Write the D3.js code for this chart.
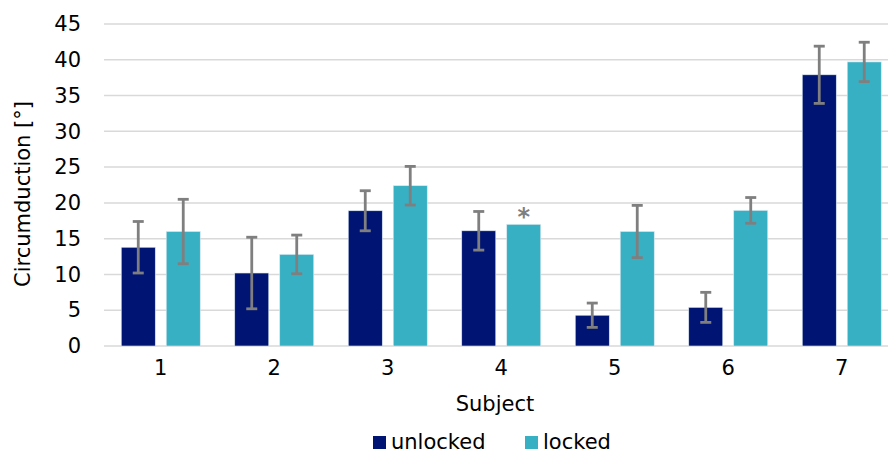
<!DOCTYPE html>
<html>
<head>
<meta charset="utf-8">
<script src="https://cdn.jsdelivr.net/npm/d3@7"></script>
<style>
  body { margin: 0; background: #fff; }
  svg { font-family: "DejaVu Sans", sans-serif; }
</style>
</head>
<body>
<svg id="chart" width="888" height="454"></svg>
<script>
const subjects = ["1", "2", "3", "4", "5", "6", "7"]
const seriesNames = ["unlocked", "locked"]
const unlocked = [13.8, 10.2, 18.9, 16.1, 4.3, 5.4, 37.9]
const unlockedErr = [3.6, 5.0, 2.8, 2.7, 1.7, 2.1, 4.0]
const locked = [16.0, 12.8, 22.4, 17.0, 16.0, 18.95, 39.7]
const lockedErr = [4.5, 2.7, 2.7, 0, 3.65, 1.8, 2.75]
const yTicks = [0, 5, 10, 15, 20, 25, 30, 35, 40, 45]
const colors = ["#001473", "#38b0c3"]

const svg = d3.select("#chart")
const width = 888, height = 454
const margin = {top: 24, bottom: 108, left: 104}
const fontSize = 21

// the last category runs a little past the right edge, as in the original
const x = d3.scaleBand()
    .domain(subjects)
    .range([margin.left, margin.left + 7 * 113.5])
    .paddingInner(0.304)
    .paddingOuter(0.152)
const x1 = d3.scaleBand()
    .domain(seriesNames)
    .range([0, x.bandwidth()])
    .paddingInner(0.244)
const y = d3.scaleLinear()
    .domain([0, 45])
    .range([height - margin.bottom, margin.top])

// gridlines
svg.append("g")
    .selectAll("line")
    .data(yTicks)
    .join("line")
    .attr("x1", margin.left)
    .attr("x2", width)
    .attr("y1", d => y(d))
    .attr("y2", d => y(d))
    .attr("stroke", "#d9d9d9")
    .attr("stroke-width", 1.5)

// y axis labels
let yAxis = g => g
    .attr("transform", `translate(${margin.left - 23},0)`)
    .call(d3.axisLeft(y).tickValues(yTicks).tickSize(0).tickPadding(0))
    .call(g => g.select(".domain").remove())
    .call(g => g.selectAll("text")
        .attr("font-size", fontSize)
        .attr("font-family", "DejaVu Sans, sans-serif")
        .attr("fill", "#000"))
svg.append("g").call(yAxis)

// x axis labels
let xAxis = g => g
    .attr("transform", `translate(0,${y(0) + 29})`)
    .call(d3.axisBottom(x).tickSize(0).tickPadding(0))
    .call(g => g.select(".domain").remove())
    .call(g => g.selectAll("text")
        .attr("dy", 0)
        .attr("font-size", fontSize)
        .attr("font-family", "DejaVu Sans, sans-serif")
        .attr("fill", "#000"))
svg.append("g").call(xAxis)

const series = [
    {name: "unlocked", values: unlocked, err: unlockedErr},
    {name: "locked", values: locked, err: lockedErr}
]

series.forEach((s, si) => {
    const data = subjects.map((d, i) => ({subject: d, value: s.values[i], err: s.err[i]}))
    const cx = d => x(d.subject) + x1(s.name) + x1.bandwidth() / 2
    const g = svg.append("g")
    g.selectAll("rect")
        .data(data)
        .join("rect")
        .attr("x", d => x(d.subject) + x1(s.name))
        .attr("width", x1.bandwidth())
        .attr("y", d => y(d.value))
        .attr("height", d => y(0) - y(d.value))
        .attr("fill", colors[si])
        .attr("stroke", "#dbe8f0")
        .attr("stroke-width", 0.6)

    const eb = g.selectAll("g.err")
        .data(data.filter(d => d.err > 0))
        .join("g")
        .attr("class", "err")
        .attr("stroke", "#7f7f7f")
        .attr("stroke-width", 2.8)
    eb.append("line")
        .attr("x1", cx)
        .attr("x2", cx)
        .attr("y1", d => y(d.value + d.err))
        .attr("y2", d => y(d.value - d.err))
    ;[1, -1].forEach(sign => {
        eb.append("line")
            .attr("x1", d => cx(d) - 5.5)
            .attr("x2", d => cx(d) + 5.5)
            .attr("y1", d => y(d.value + sign * d.err))
            .attr("y2", d => y(d.value + sign * d.err))
    })
})

// significance marker on subject 4 locked
svg.append("text")
    .attr("x", x("4") + x1("locked") + x1.bandwidth() / 2)
    .attr("y", y(locked[3]) + 1)
    .attr("text-anchor", "middle")
    .attr("font-size", 24)
    .attr("font-weight", "bold")
    .attr("fill", "#7f7f7f")
    .text("*")

// axis titles
svg.append("text")
    .attr("transform", `translate(30,194) rotate(-90)`)
    .attr("text-anchor", "middle")
    .attr("font-size", fontSize)
    .attr("fill", "#000")
    .text("Circumduction [°]")

svg.append("text")
    .attr("x", 495)
    .attr("y", 411)
    .attr("text-anchor", "middle")
    .attr("font-size", fontSize)
    .attr("fill", "#000")
    .text("Subject")

// legend
const legend = svg.append("g")
const legendX = [373, 525]
seriesNames.forEach((n, i) => {
    legend.append("rect")
        .attr("x", legendX[i])
        .attr("y", 436)
        .attr("width", 13)
        .attr("height", 13)
        .attr("fill", colors[i])
    legend.append("text")
        .attr("x", legendX[i] + 18)
        .attr("y", 449)
        .attr("font-size", fontSize)
        .attr("fill", "#000")
        .text(n)
})
</script>
</body>
</html>
